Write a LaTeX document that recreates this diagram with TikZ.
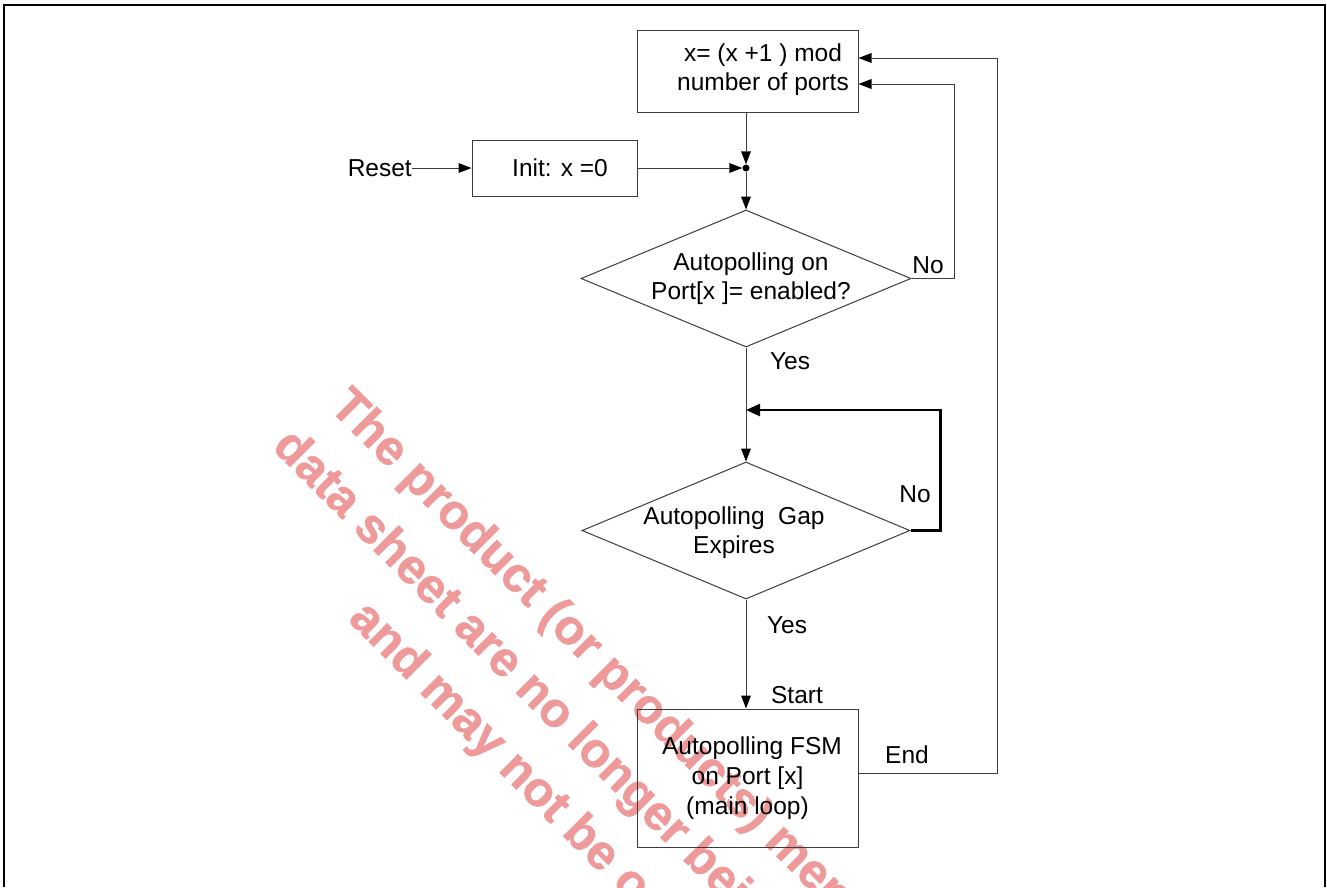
\documentclass[tikz,border=0pt]{standalone}
\usepackage{fontspec}
\setmainfont{Liberation Sans}
\newfontfamily\wmfont{Liberation Sans}[UprightFont={* Bold}, FakeBold=1.2]
\usetikzlibrary{arrows.meta,shapes.geometric}
\definecolor{wmred}{RGB}{239,154,154}
\definecolor{edge}{RGB}{60,60,60}
\begin{document}
\begin{tikzpicture}[x=1pt,y=-1pt,
  txt/.style={font=\fontsize{24.5}{29}\selectfont, align=center, inner sep=0pt},
  boxnode/.style={draw=edge, line width=1pt, inner sep=0pt, font=\fontsize{24.5}{30}\selectfont, align=center},
  dia/.style={draw=edge, line width=1pt, diamond, inner sep=0pt, aspect=2.4},
  conn/.style={draw=edge, line width=1pt},
  arr/.style={-{Triangle[length=13pt,width=10pt,fill=black,line width=0pt]}},
  thickarr/.style={draw=black, line width=2.5pt, -{Triangle[length=14pt,width=12pt]}},
  wm/.style={text=wmred, font=\wmfont\fontsize{49}{49}\selectfont, inner sep=0pt, rotate=-45, anchor=base west}]
\useasboundingbox (0,0) rectangle (1327,887);

% watermark (behind)
\begin{scope}
\clip (0,0) rectangle (1327,887);
\node[wm] (wm1) at (328,408) {The product (or products) mentioned};
\node[wm] (wm2) at (271,448) {data sheet are no longer being};
\node[wm] (wm3) at (347,620) {and may not be ordered};
\end{scope}

% frame
\draw[line width=2pt] (3.5,887) -- (3.5,5) -- (1325,5) -- (1325,887);

% nodes
\node[boxnode, minimum width=221, minimum height=82] (upd) at (747.5,71) {};
\node[txt] (updtxt) at (763,70) {x= (x +1 ) mod\\number of ports};

\node[boxnode, minimum width=165, minimum height=56] (init) at (554.5,168) {\hspace*{11pt}Init: x =0};
\node[txt, anchor=east] (reset) at (412,168) {Reset};

\node[circle, fill=black, inner sep=0pt, minimum size=7pt] (j) at (746,168) {};

\node[dia, minimum width=330, minimum height=137] (d1) at (746,278.5) {};
\node[txt] (d1txt) at (751,279) {Autopolling on\\Port[x ]= enabled?};

\node[dia, minimum width=328, minimum height=137] (d2) at (746,530.5) {};
\node[txt] (d2txt) at (734,533) {Autopolling\ \ Gap\\Expires};

\node[boxnode, minimum width=221, minimum height=138] (fsm) at (747.5,778) {\hspace*{9pt}Autopolling FSM\\on Port [x]\\(main loop)};

\coordinate (g) at (746,410);

% labels
\node[txt] (no1) at (928,265) {No};
\node[txt] (yes1) at (790,361) {Yes};
\node[txt] (no2) at (915,494) {No};
\node[txt] (yes2) at (787,625) {Yes};
\node[txt] (start) at (797,695) {Start};
\node[txt] (endl) at (907,755) {End};

% connectors
\draw[conn, arr] (j |- upd.south) -- (j.north);
\draw[conn, arr] (reset.east) -- (reset.east -| init.west);
\draw[conn, arr] (init.east) -- (j.west);
\draw[conn, arr] (j.south) -- (d1.north);
\draw[conn, arr] (d1.east) -- ++(43,0) |- ([yshift=-13pt]upd.east);
\draw[conn, arr] (d1.south) -- (d2.north);
\draw[thickarr] (d2.east) -- ++(30,0) |- (g);
\draw[conn, arr] (d2.south) -- (d2.south |- fsm.north);
\draw[conn, arr] ([yshift=5pt]fsm.east) -- ++(139,0) |- ([yshift=13pt]upd.east);
\end{tikzpicture}
\end{document}
